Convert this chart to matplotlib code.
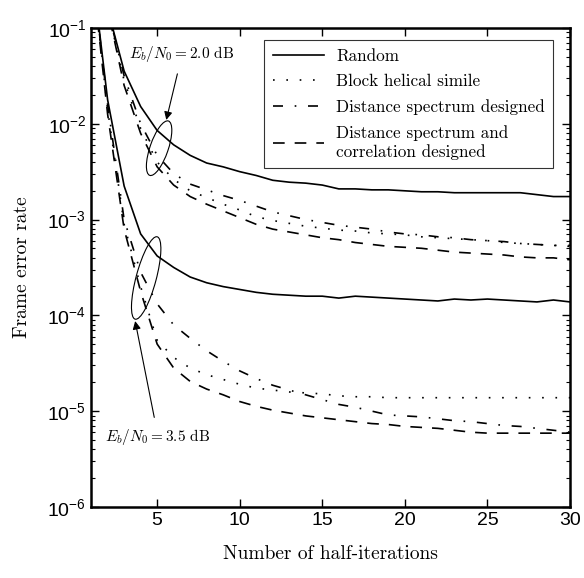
import numpy as np
import matplotlib
matplotlib.use("Agg")
import matplotlib.pyplot as plt
from matplotlib.patches import Ellipse

plt.rcParams['mathtext.fontset'] = 'custom'
plt.rcParams['mathtext.rm'] = 'Liberation Sans'
plt.rcParams['mathtext.it'] = 'Liberation Sans:italic'
plt.rcParams['font.family'] = 'Liberation Sans'

# half-iterations
iters = np.arange(1, 31)

# Eb/N0 = 2.0 dB, log10 of frame error rate
up_random = [-0.3, -0.8, -1.45, -1.82, -2.07, -2.22, -2.33, -2.41, -2.45, -2.50,
             -2.54, -2.59, -2.61, -2.62, -2.64, -2.68, -2.68, -2.69, -2.69, -2.70,
             -2.71, -2.71, -2.72, -2.72, -2.72, -2.72, -2.72, -2.74, -2.76, -2.76]
up_helical = [-0.3, -0.8, -1.55, -2.05, -2.40, -2.58, -2.70, -2.77, -2.84, -2.90,
              -2.97, -3.01, -3.04, -3.07, -3.09, -3.11, -3.12, -3.14, -3.15, -3.16,
              -3.18, -3.19, -3.20, -3.21, -3.22, -3.24, -3.25, -3.26, -3.27, -3.28]
up_dist = [-0.3, -0.8, -1.50, -2.00, -2.33, -2.52, -2.63, -2.69, -2.75, -2.80,
           -2.86, -2.92, -2.96, -3.00, -3.03, -3.06, -3.08, -3.10, -3.13, -3.15,
           -3.16, -3.18, -3.19, -3.21, -3.22, -3.23, -3.25, -3.26, -3.27, -3.27]
up_distcorr = [-0.3, -0.8, -1.60, -2.10, -2.45, -2.64, -2.76, -2.84, -2.91, -2.98,
               -3.05, -3.10, -3.13, -3.16, -3.19, -3.21, -3.24, -3.26, -3.28, -3.29,
               -3.30, -3.32, -3.34, -3.35, -3.36, -3.37, -3.39, -3.40, -3.40, -3.42]

# Eb/N0 = 3.5 dB
lo_random = [-0.3, -1.75, -2.65, -3.15, -3.38, -3.50, -3.60, -3.66, -3.70, -3.73,
             -3.76, -3.78, -3.79, -3.80, -3.80, -3.82, -3.80, -3.81, -3.82, -3.83,
             -3.84, -3.85, -3.83, -3.84, -3.83, -3.84, -3.85, -3.86, -3.84, -3.86]
lo_helical = [-0.3, -1.85, -3.05, -3.70, -4.26, -4.44, -4.55, -4.62, -4.67, -4.72,
              -4.76, -4.78, -4.80, -4.81, -4.82, -4.84, -4.85, -4.85, -4.86, -4.86,
              -4.86, -4.86, -4.86, -4.86, -4.86, -4.86, -4.86, -4.86, -4.86, -4.86]
lo_dist = [-0.3, -1.80, -3.00, -3.55, -3.88, -4.10, -4.24, -4.37, -4.48, -4.58,
           -4.66, -4.73, -4.78, -4.83, -4.88, -4.93, -4.96, -5.00, -5.04, -5.05,
           -5.06, -5.08, -5.10, -5.11, -5.13, -5.15, -5.16, -5.18, -5.20, -5.22]
lo_distcorr = [-0.3, -1.90, -3.10, -3.75, -4.30, -4.55, -4.69, -4.77, -4.83, -4.90,
               -4.95, -4.99, -5.02, -5.05, -5.07, -5.09, -5.11, -5.13, -5.14, -5.16,
               -5.17, -5.18, -5.20, -5.22, -5.23, -5.23, -5.23, -5.23, -5.23, -5.23]

labels = ['Random', 'Block helical simile', 'Distance spectrum designed',
          'Distance spectrum and\ncorrelation designed']
styles = ['-', (0, (1, 7)), (0, (6, 7, 1, 7)), (0, (7, 6))]

fig = plt.figure(figsize=(5.84, 5.78), dpi=100)
ax = fig.add_axes([0.156, 0.123, 0.82, 0.8286])

for i, (up, lo) in enumerate(zip([up_random, up_helical, up_dist, up_distcorr],
                                 [lo_random, lo_helical, lo_dist, lo_distcorr])):
    ax.semilogy(iters, 10 ** np.array(up), color='black', lw=1.2, ls=styles[i], label=labels[i])
    ax.semilogy(iters, 10 ** np.array(lo), color='black', lw=1.2, ls=styles[i])

ax.set_xlim(1, 30)
ax.set_ylim(1e-6, 1e-1)
ax.set_xticks([5, 10, 15, 20, 25, 30])
ax.tick_params(which='both', direction='in', top=True, right=True, labelsize=14)
ax.tick_params(which='major', length=6, width=1)
ax.tick_params(which='minor', length=3, width=0.8)
for s in ax.spines.values():
    s.set_linewidth(1.8)

ax.set_xlabel('Number of half-iterations', family='cmr10', fontsize=14, labelpad=12)
ax.set_ylabel('Frame error rate', family='cmr10', fontsize=14, labelpad=12)

leg = ax.legend(loc='upper right', bbox_to_anchor=(0.965, 0.975), borderaxespad=0,
                fancybox=False, edgecolor='black', handlelength=3.0, handletextpad=0.7,
                prop={'family': 'cmr10', 'size': 12.3}, labelspacing=0.6,
                borderpad=0.5)
leg.get_frame().set_linewidth(0.8)

# ellipses grouping the curves
ax.add_patch(Ellipse((0.142, 0.749), 0.12, 0.038, angle=71, transform=ax.transAxes,
                     fill=False, color='black', lw=0.8))
ax.add_patch(Ellipse((0.115, 0.478), 0.178, 0.042, angle=75, transform=ax.transAxes,
                     fill=False, color='black', lw=0.8))

ax.annotate(r'$E_b/N_0=$2.0 dB', xy=(0.157, 0.808), xycoords='axes fraction',
            xytext=(0.19, 0.945), textcoords='axes fraction', ha='center', va='center',
            family='cmr10', fontsize=11, math_fontfamily='cm',
            arrowprops=dict(arrowstyle='-|>', color='black', lw=0.8,
                            mutation_scale=12, shrinkA=5, shrinkB=0))
ax.annotate(r'$E_b/N_0=$3.5 dB', xy=(0.092, 0.388), xycoords='axes fraction',
            xytext=(0.14, 0.146), textcoords='axes fraction', ha='center', va='center',
            family='cmr10', fontsize=11, math_fontfamily='cm',
            arrowprops=dict(arrowstyle='-|>', color='black', lw=0.8,
                            mutation_scale=12, shrinkA=5, shrinkB=0))

fig.savefig('out.png', dpi=100)
